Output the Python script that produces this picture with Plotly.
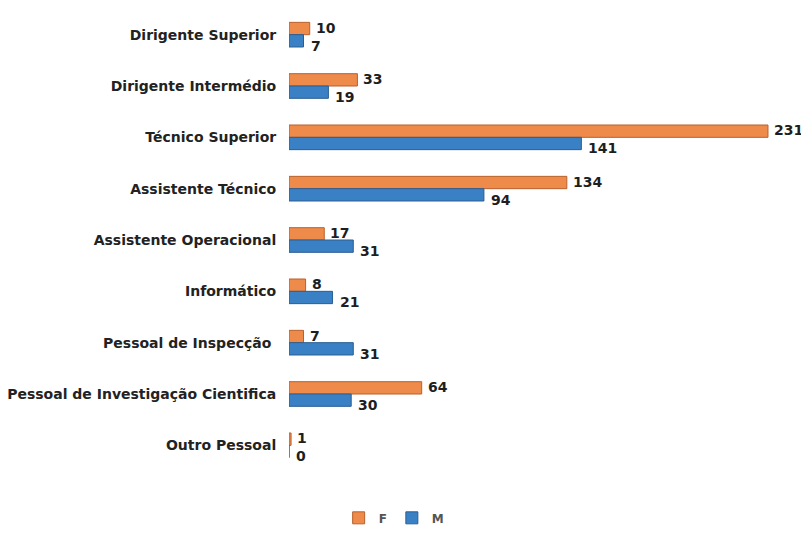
import plotly.graph_objects as go

categories = ["Dirigente Superior", "Dirigente Intermédio", "Técnico Superior",
              "Assistente Técnico", "Assistente Operacional", "Informático",
              "Pessoal de Inspecção ", "Pessoal de Investigação Cientifica", "Outro Pessoal"]
f_values = [10, 33, 231, 134, 17, 8, 7, 64, 1]
m_values = [7, 19, 141, 94, 31, 21, 31, 30, 0]

label_font = dict(family="DejaVu Sans", size=14, color="#1e1e1e", weight="bold")

fig = go.Figure()
fig.add_trace(go.Bar(
    y=categories, x=f_values, name="F", orientation="h",
    marker=dict(color="#EE8A4A", line=dict(color="#B8612C", width=1)),
))
fig.add_trace(go.Bar(
    y=categories, x=m_values, name="M", orientation="h",
    marker=dict(color="#3A80C4", line=dict(color="#2A5E92", width=1)),
))

# value labels, placed at each bar's end through the axes
for cat, v in zip(categories, f_values):
    fig.add_annotation(x=v, y=cat, xref="x", yref="y", text=str(v), showarrow=False,
                       xanchor="left", yanchor="middle", xshift=5, yshift=7,
                       borderpad=0, font=label_font)
for cat, v in zip(categories, m_values):
    fig.add_annotation(x=v, y=cat, xref="x", yref="y", text=str(v), showarrow=False,
                       xanchor="left", yanchor="middle", xshift=6, yshift=-11,
                       borderpad=0, font=label_font)

fig.update_layout(
    width=801, height=525,
    barmode="group", bargap=0.52, bargroupgap=0,
    plot_bgcolor="white", paper_bgcolor="white",
    margin=dict(l=281, r=12, t=1, b=51),
    font=dict(family="DejaVu Sans", size=13, color="#222222"),
    xaxis=dict(range=[0, 245], showgrid=False, zeroline=False,
               showticklabels=False, showline=False, ticks=""),
    yaxis=dict(autorange="reversed", showgrid=False, showline=False,
               automargin=False,
               ticks="outside", ticklen=9, tickcolor="white",
               tickfont=dict(family="DejaVu Sans", size=14, color="#222222", weight="bold")),
    legend=dict(orientation="h", x=0.207, xanchor="center", y=-0.07, yanchor="top",
                font=dict(family="DejaVu Sans", size=12, color="#555555", weight="bold"),
                itemwidth=30, traceorder="normal"),
)
fig.write_html("out.html")
